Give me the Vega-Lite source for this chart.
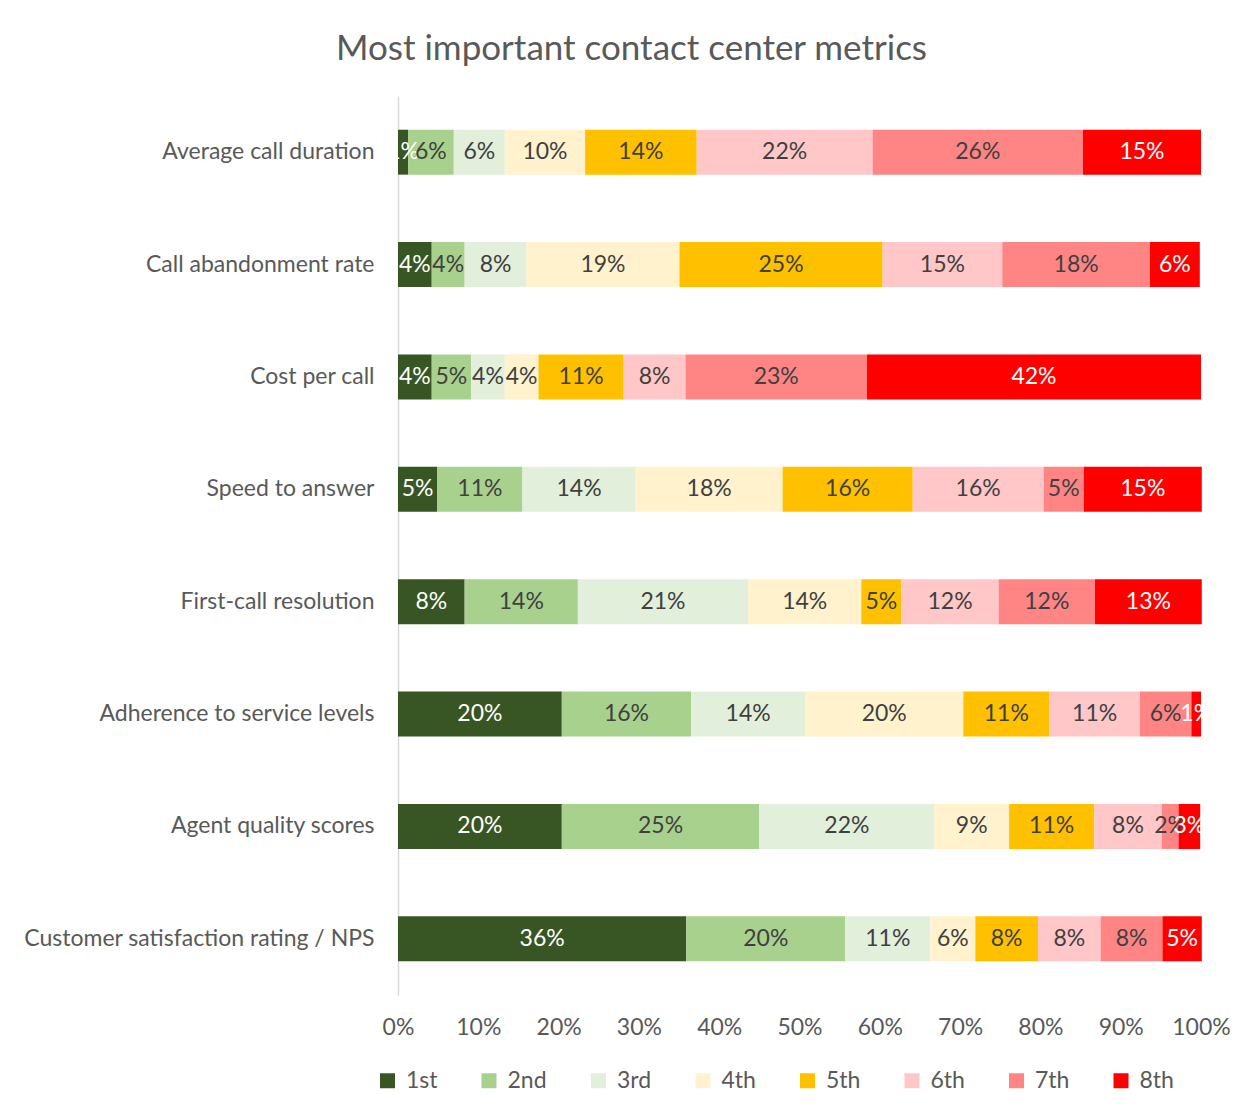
{
  "$schema": "https://vega.github.io/schema/vega-lite/v6.json",
  "width": 803,
  "height": 899,
  "autosize": {"type": "none"},
  "padding": {"left": 398, "top": 96, "right": 48, "bottom": 110},
  "background": "white",
  "config": {
    "font": "Lato",
    "view": {"stroke": null},
    "axis": {"labelFont": "Lato", "labelColor": "#595959", "grid": false, "ticks": false},
    "legend": {"labelFont": "Lato"}
  },
  "title": {
    "text": "Most important contact center metrics",
    "font": "Lato",
    "fontSize": 35,
    "fontWeight": "normal",
    "color": "#595959",
    "anchor": "middle",
    "dx": -168,
    "offset": 29
  },
  "data": {
    "values": [
      {"metric": "Average call duration", "rank": "1st", "v": 0.0125},
      {"metric": "Average call duration", "rank": "2nd", "v": 0.057},
      {"metric": "Average call duration", "rank": "3rd", "v": 0.0635},
      {"metric": "Average call duration", "rank": "4th", "v": 0.100},
      {"metric": "Average call duration", "rank": "5th", "v": 0.139},
      {"metric": "Average call duration", "rank": "6th", "v": 0.219},
      {"metric": "Average call duration", "rank": "7th", "v": 0.262},
      {"metric": "Average call duration", "rank": "8th", "v": 0.147},
      {"metric": "Call abandonment rate", "rank": "1st", "v": 0.042},
      {"metric": "Call abandonment rate", "rank": "2nd", "v": 0.041},
      {"metric": "Call abandonment rate", "rank": "3rd", "v": 0.077},
      {"metric": "Call abandonment rate", "rank": "4th", "v": 0.1905},
      {"metric": "Call abandonment rate", "rank": "5th", "v": 0.253},
      {"metric": "Call abandonment rate", "rank": "6th", "v": 0.149},
      {"metric": "Call abandonment rate", "rank": "7th", "v": 0.184},
      {"metric": "Call abandonment rate", "rank": "8th", "v": 0.062},
      {"metric": "Cost per call", "rank": "1st", "v": 0.042},
      {"metric": "Cost per call", "rank": "2nd", "v": 0.049},
      {"metric": "Cost per call", "rank": "3rd", "v": 0.042},
      {"metric": "Cost per call", "rank": "4th", "v": 0.042},
      {"metric": "Cost per call", "rank": "5th", "v": 0.106},
      {"metric": "Cost per call", "rank": "6th", "v": 0.077},
      {"metric": "Cost per call", "rank": "7th", "v": 0.226},
      {"metric": "Cost per call", "rank": "8th", "v": 0.416},
      {"metric": "Speed to answer", "rank": "1st", "v": 0.049},
      {"metric": "Speed to answer", "rank": "2nd", "v": 0.106},
      {"metric": "Speed to answer", "rank": "3rd", "v": 0.141},
      {"metric": "Speed to answer", "rank": "4th", "v": 0.183},
      {"metric": "Speed to answer", "rank": "5th", "v": 0.162},
      {"metric": "Speed to answer", "rank": "6th", "v": 0.163},
      {"metric": "Speed to answer", "rank": "7th", "v": 0.050},
      {"metric": "Speed to answer", "rank": "8th", "v": 0.147},
      {"metric": "First-call resolution", "rank": "1st", "v": 0.083},
      {"metric": "First-call resolution", "rank": "2nd", "v": 0.141},
      {"metric": "First-call resolution", "rank": "3rd", "v": 0.212},
      {"metric": "First-call resolution", "rank": "4th", "v": 0.141},
      {"metric": "First-call resolution", "rank": "5th", "v": 0.050},
      {"metric": "First-call resolution", "rank": "6th", "v": 0.121},
      {"metric": "First-call resolution", "rank": "7th", "v": 0.120},
      {"metric": "First-call resolution", "rank": "8th", "v": 0.133},
      {"metric": "Adherence to service levels", "rank": "1st", "v": 0.204},
      {"metric": "Adherence to service levels", "rank": "2nd", "v": 0.161},
      {"metric": "Adherence to service levels", "rank": "3rd", "v": 0.142},
      {"metric": "Adherence to service levels", "rank": "4th", "v": 0.197},
      {"metric": "Adherence to service levels", "rank": "5th", "v": 0.107},
      {"metric": "Adherence to service levels", "rank": "6th", "v": 0.113},
      {"metric": "Adherence to service levels", "rank": "7th", "v": 0.064},
      {"metric": "Adherence to service levels", "rank": "8th", "v": 0.012},
      {"metric": "Agent quality scores", "rank": "1st", "v": 0.204},
      {"metric": "Agent quality scores", "rank": "2nd", "v": 0.246},
      {"metric": "Agent quality scores", "rank": "3rd", "v": 0.218},
      {"metric": "Agent quality scores", "rank": "4th", "v": 0.093},
      {"metric": "Agent quality scores", "rank": "5th", "v": 0.106},
      {"metric": "Agent quality scores", "rank": "6th", "v": 0.084},
      {"metric": "Agent quality scores", "rank": "7th", "v": 0.021},
      {"metric": "Agent quality scores", "rank": "8th", "v": 0.027},
      {"metric": "Customer satisfaction rating / NPS", "rank": "1st", "v": 0.359},
      {"metric": "Customer satisfaction rating / NPS", "rank": "2nd", "v": 0.198},
      {"metric": "Customer satisfaction rating / NPS", "rank": "3rd", "v": 0.106},
      {"metric": "Customer satisfaction rating / NPS", "rank": "4th", "v": 0.056},
      {"metric": "Customer satisfaction rating / NPS", "rank": "5th", "v": 0.078},
      {"metric": "Customer satisfaction rating / NPS", "rank": "6th", "v": 0.078},
      {"metric": "Customer satisfaction rating / NPS", "rank": "7th", "v": 0.077},
      {"metric": "Customer satisfaction rating / NPS", "rank": "8th", "v": 0.049}
    ]
  },
  "transform": [
    {"stack": "v", "groupby": ["metric"], "sort": [{"field": "rank", "order": "ascending"}], "as": ["x0", "x1"]},
    {"calculate": "(datum.x0 + datum.x1) / 2", "as": "xm"}
  ],
  "encoding": {
    "y": {
      "field": "metric",
      "type": "nominal",
      "sort": ["Average call duration", "Call abandonment rate", "Cost per call", "Speed to answer", "First-call resolution", "Adherence to service levels", "Agent quality scores", "Customer satisfaction rating / NPS"],
      "scale": {"paddingInner": 0.6, "paddingOuter": 0.3},
      "axis": {"title": null, "labelFontSize": 23, "labelPadding": 24, "domain": true, "domainColor": "#d9d9d9", "domainWidth": 1.5, "labelLimit": 400}
    }
  },
  "layer": [
    {
      "mark": {"type": "bar"},
      "encoding": {
        "x": {
          "field": "x0",
          "type": "quantitative",
          "scale": {"domain": [0, 1], "nice": false},
          "axis": {"title": null, "format": ".0%", "values": [0, 0.1, 0.2, 0.3, 0.4, 0.5, 0.6, 0.7, 0.8, 0.9, 1], "labelFontSize": 23, "labelPadding": 21, "domain": false, "labelOverlap": false, "labelFlush": false}
        },
        "x2": {"field": "x1"},
        "color": {
          "field": "rank",
          "type": "nominal",
          "scale": {
            "domain": ["1st", "2nd", "3rd", "4th", "5th", "6th", "7th", "8th"],
            "range": ["#375623", "#A9D18E", "#E2EFDA", "#FFF2CC", "#FFC000", "#FFC7C7", "#FF8585", "#FF0000"]
          },
          "legend": {
            "title": null,
            "orient": "none",
            "direction": "horizontal",
            "columns": 8,
            "legendX": -22,
            "legendY": 973,
            "symbolType": "square",
            "symbolSize": 225,
            "symbolStrokeWidth": 0,
            "labelFontSize": 23,
            "labelColor": "#595959",
            "labelOffset": 7,
            "columnPadding": 39.5
          }
        }
      }
    },
    {
      "mark": {"type": "text", "fontSize": 23, "baseline": "middle", "align": "center"},
      "encoding": {
        "x": {"field": "xm", "type": "quantitative"},
        "text": {"field": "v", "type": "quantitative", "format": ".0%"},
        "color": {
          "condition": {"test": "datum.rank === '1st' || datum.rank === '8th'", "value": "white"},
          "value": "#404040"
        }
      }
    }
  ]
}
